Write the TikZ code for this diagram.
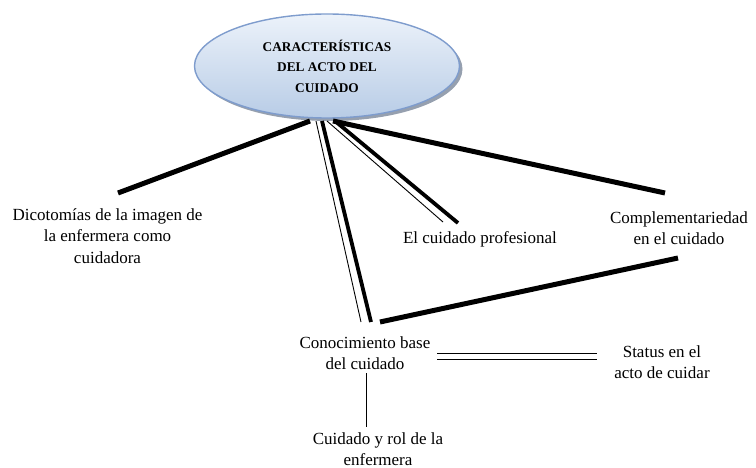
\documentclass[tikz,border=0pt]{standalone}
\usepackage{fontspec}
\setmainfont{Liberation Serif}
\usetikzlibrary{shapes.geometric}
\definecolor{ellborder}{RGB}{126,156,205}
\definecolor{elltop}{RGB}{236,242,250}
\definecolor{ellbot}{RGB}{184,204,230}
\definecolor{ellshadow}{RGB}{150,160,175}
\begin{document}
\begin{tikzpicture}[x=1pt,y=-1pt,
  lbl/.style={align=center,font=\fontsize{17}{21.5}\selectfont,inner sep=0pt},
  thickline/.style={line width=5pt},
  midline/.style={line width=3.8pt},
  thinline/.style={line width=0.9pt}]
\useasboundingbox (0,0) rectangle (756,468);
% shadow
\fill[ellshadow] (330,69) ellipse [x radius=132.5, y radius=52];
\node[ellipse, minimum width=265pt, minimum height=104pt, inner sep=0pt,
  draw=ellborder, line width=1.4pt, top color=elltop, bottom color=ellbot,
  align=center, font=\fontsize{13.3}{20.5}\selectfont\bfseries] (top) at (327,66)
  {CARACTERÍSTICAS\\DEL ACTO DEL\\CUIDADO};
\node[lbl] (dic) at (107.5,236) {Dicotomías de la imagen de\\la enfermera como\\cuidadora};
\node[lbl] (prof) at (480,239) {El cuidado profesional};
\node[lbl] (comp) at (679,228) {Complementariedad\\en el cuidado};
\node[lbl] (con) at (365,353) {Conocimiento base\\del cuidado};
\node[lbl] (stat) at (662,362) {Status en el\\acto de cuidar};
\node[lbl] (rol) at (378,449) {Cuidado y rol de la\\enfermera};
% endpoints
\coordinate (t1) at (310,121);
\coordinate (t2) at (333,121);
\coordinate (t3) at (335,121);
\coordinate (t4) at (327,121);
\coordinate (t5) at (322,121);
\coordinate (t6) at (316,121);
\coordinate (dicE) at (118,193);
\coordinate (compE) at (665,193);
\coordinate (profA) at (458,223);
\coordinate (profB) at (443,222);
\coordinate (conA) at (371,322);
\coordinate (conB) at (361,322);
\coordinate (compF) at (678,258);
\coordinate (conC) at (380,322);
\coordinate (conR1) at (437,353);
\coordinate (statL1) at (597,353);
\coordinate (conR2) at (437,359);
\coordinate (statL2) at (597,359);
\coordinate (conD) at (366,373);
\coordinate (rolU) at (366,427);
\draw[thickline] (t1) -- (dicE);
\draw[thickline] (t2) -- (compE);
\draw[midline] (t3) -- (profA);
\draw[thinline] (t4) -- (profB);
\draw[midline] (t5) -- (conA);
\draw[thinline] (t6) -- (conB);
\draw[thickline] (compF) -- (conC);
\draw[thinline] (conR1) -- (statL1);
\draw[thinline] (conR2) -- (statL2);
\draw[thinline] (conD) -- (rolU);
\end{tikzpicture}
\end{document}
